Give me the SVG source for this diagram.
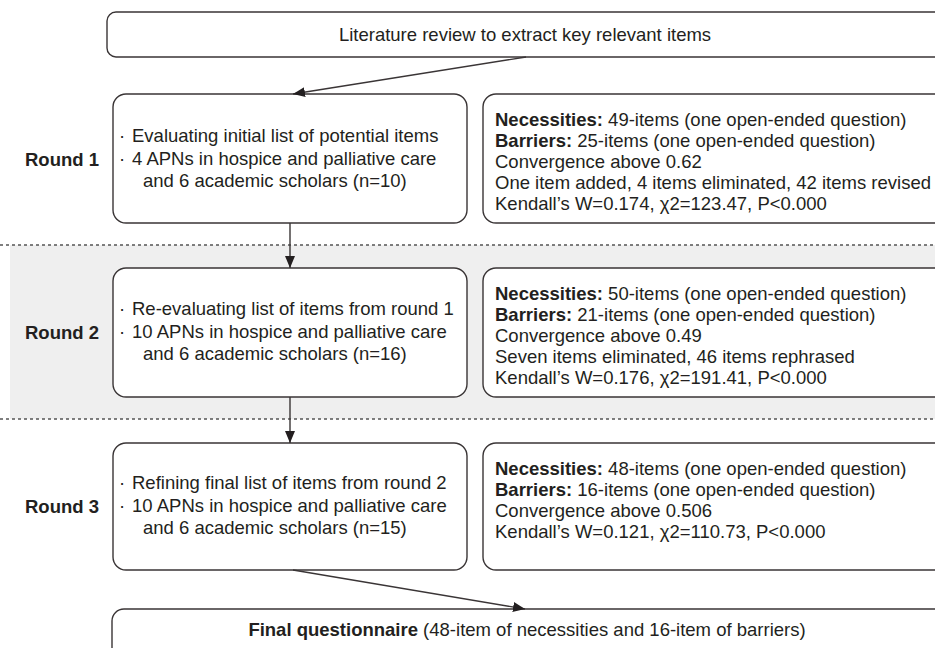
<svg xmlns="http://www.w3.org/2000/svg" width="935" height="648" viewBox="0 0 935 648">
<style>
.box{fill:#fff;stroke:#3a3536;stroke-width:1.4}
.t{font-family:"Liberation Sans",Arial,sans-serif;font-size:18.5px;fill:#231f20}
.b{font-weight:bold}
.lab{font-family:"Liberation Sans",Arial,sans-serif;font-size:18.5px;font-weight:bold;fill:#231f20}
.dot{stroke:#555;stroke-width:1.3;stroke-dasharray:3 3;fill:none}
.con{stroke:#3a3536;stroke-width:1.4;fill:none;marker-end:url(#ah)}
</style>
<defs>
<marker id="ah" viewBox="0 0 12 10" refX="12" refY="5" markerWidth="12" markerHeight="10" markerUnits="userSpaceOnUse" orient="auto">
<path d="M0,0 L12,5 L0,10 Z" fill="#231f20"/>
</marker>
</defs>
<rect x="0" y="0" width="935" height="648" fill="#fff"/>
<rect x="10" y="245" width="925" height="174" fill="#efefef"/>
<line class="dot" x1="0" y1="245" x2="935" y2="245"/>
<line class="dot" x1="0" y1="419" x2="935" y2="419"/>

<g id="labels">
<text class="lab" x="25" y="166">Round 1</text>
<text class="lab" x="25" y="339">Round 2</text>
<text class="lab" x="25" y="513">Round 3</text>
</g>

<g id="literature">
<rect class="box" x="107" y="12" width="870" height="45" rx="9"/>
<text class="t" x="525" y="41" text-anchor="middle">Literature review to extract key relevant items</text>
</g>

<g id="round1-left">
<rect class="box" x="113" y="94" width="354" height="129" rx="13"/>
<text class="t" x="119" y="142">·<tspan x="132">Evaluating initial list of potential items</tspan></text>
<text class="t" x="119" y="164.5">·<tspan x="132">4 APNs in hospice and palliative care</tspan></text>
<text class="t" x="143" y="187">and 6 academic scholars (n=10)</text>
</g>

<g id="round1-right">
<rect class="box" x="483" y="94" width="480" height="129" rx="13"/>
<text class="t" x="495" y="126"><tspan class="b">Necessities:</tspan> 49-items (one open-ended question)</text>
<text class="t" x="495" y="147"><tspan class="b">Barriers:</tspan> 25-items (one open-ended question)</text>
<text class="t" x="495" y="168">Convergence above 0.62</text>
<text class="t" x="495" y="189">One item added, 4 items eliminated, 42 items revised</text>
<text class="t" x="495" y="210">Kendall’s W=0.174, χ2=123.47, P&lt;0.000</text>
</g>

<g id="round2-left">
<rect class="box" x="113" y="268" width="354" height="129" rx="13"/>
<text class="t" x="119" y="315">·<tspan x="132">Re-evaluating list of items from round 1</tspan></text>
<text class="t" x="119" y="337.5">·<tspan x="132">10 APNs in hospice and palliative care</tspan></text>
<text class="t" x="143" y="360">and 6 academic scholars (n=16)</text>
</g>

<g id="round2-right">
<rect class="box" x="483" y="268" width="480" height="129" rx="13"/>
<text class="t" x="495" y="300"><tspan class="b">Necessities:</tspan> 50-items (one open-ended question)</text>
<text class="t" x="495" y="321"><tspan class="b">Barriers:</tspan> 21-items (one open-ended question)</text>
<text class="t" x="495" y="342">Convergence above 0.49</text>
<text class="t" x="495" y="363">Seven items eliminated, 46 items rephrased</text>
<text class="t" x="495" y="384">Kendall’s W=0.176, χ2=191.41, P&lt;0.000</text>
</g>

<g id="round3-left">
<rect class="box" x="113" y="443" width="354" height="127" rx="13"/>
<text class="t" x="119" y="489">·<tspan x="132">Refining final list of items from round 2</tspan></text>
<text class="t" x="119" y="511.5">·<tspan x="132">10 APNs in hospice and palliative care</tspan></text>
<text class="t" x="143" y="534">and 6 academic scholars (n=15)</text>
</g>

<g id="round3-right">
<rect class="box" x="483" y="443" width="480" height="127" rx="13"/>
<text class="t" x="495" y="475"><tspan class="b">Necessities:</tspan> 48-items (one open-ended question)</text>
<text class="t" x="495" y="496"><tspan class="b">Barriers:</tspan> 16-items (one open-ended question)</text>
<text class="t" x="495" y="517">Convergence above 0.506</text>
<text class="t" x="495" y="538">Kendall’s W=0.121, χ2=110.73, P&lt;0.000</text>
</g>

<g id="final">
<rect class="box" x="112" y="609" width="870" height="80" rx="12"/>
<text class="t" x="527" y="636" text-anchor="middle"><tspan class="b">Final questionnaire</tspan> (48-item of necessities and 16-item of barriers)</text>
</g>

<g id="connectors">
<line class="con" x1="526" y1="57" x2="293" y2="94"/>
<line class="con" x1="290" y1="223" x2="290" y2="268"/>
<line class="con" x1="290" y1="397" x2="290" y2="443"/>
<line class="con" x1="293" y1="570" x2="525" y2="609"/>
</g>
</svg>
